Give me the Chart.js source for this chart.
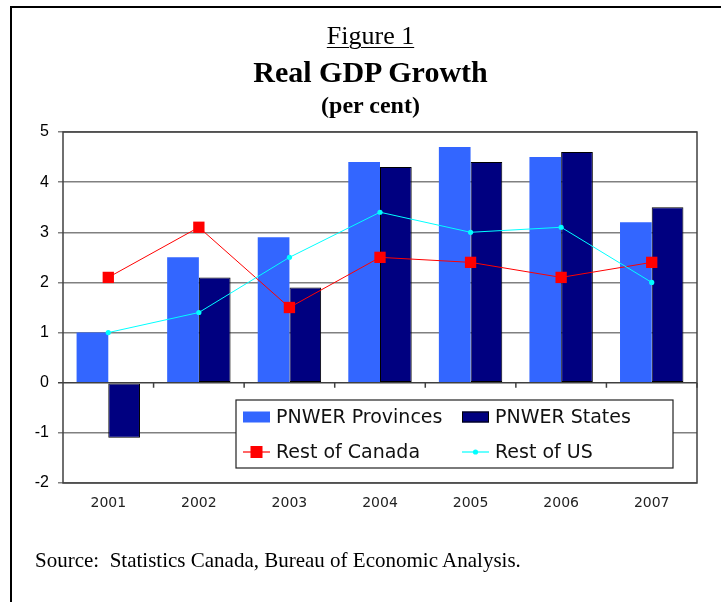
<!DOCTYPE html>
<html>
<head>
<meta charset="utf-8">
<script src="https://cdn.jsdelivr.net/npm/chart.js@4.4.1/dist/chart.umd.min.js"></script>
<style>
  html, body { margin: 0; padding: 0; background: #fff; }
  #page { position: relative; width: 721px; height: 602px; overflow: hidden; }
  #frame { position: absolute; left: 10px; top: 6px; width: 720px; height: 610px;
           border-left: 2px solid #000; border-top: 2px solid #000; }
  canvas { position: absolute; left: 0; top: 0; }
  .t { position: absolute; left: 0; width: 741px; text-align: center;
       font-family: "Liberation Serif", serif; color: #000; white-space: nowrap; }
  #fig { top: 21px; font-size: 26px; line-height: 30px; text-decoration: underline;
         text-decoration-thickness: 1px; text-underline-offset: 3px; }
  #title { top: 55px; font-size: 30px; line-height: 34px; font-weight: bold; }
  #sub { top: 91px; font-size: 24px; line-height: 28px; font-weight: bold; }
  #source { position: absolute; left: 35px; top: 547px; font-size: 21px; line-height: 26px;
            font-family: "Liberation Serif", serif; color: #000; white-space: nowrap; }
</style>
</head>
<body>
<div id="page">
  <canvas id="chart" width="721" height="602"></canvas>
  <div id="frame"></div>
  <div class="t" id="fig">Figure 1</div>
  <div class="t" id="title">Real GDP Growth</div>
  <div class="t" id="sub">(per cent)</div>
  <div id="source">Source:&nbsp; Statistics Canada, Bureau of Economic Analysis.</div>
</div>
<script>
const years = ["2001", "2002", "2003", "2004", "2005", "2006", "2007"];
const pnwerProvinces = [1.0, 2.5, 2.9, 4.4, 4.7, 4.5, 3.2];
const pnwerStates = [-1.1, 2.1, 1.9, 4.3, 4.4, 4.6, 3.5];
const restOfCanada = [2.1, 3.1, 1.5, 2.5, 2.4, 2.1, 2.4];
const restOfUS = [1.0, 1.4, 2.5, 3.4, 3.0, 3.1, 2.0];
const yTicks = [-2, -1, 0, 1, 2, 3, 4, 5];

const AXIS = "#404040";
const GRID = "#808080";

// box round the plot + small ticks on the zero line between years
const frameAndTicks = {
  id: "frameAndTicks",
  afterDatasetsDraw(chart) {
    const { ctx, chartArea: a, scales: { x, y } } = chart;
    const y0 = y.getPixelForValue(0);
    ctx.save();
    ctx.strokeStyle = AXIS;
    ctx.lineWidth = 1.5;
    ctx.beginPath();
    for (let i = 1; i < years.length; i++) {
      const bx = (x.getPixelForTick(i - 1) + x.getPixelForTick(i)) / 2;
      ctx.moveTo(bx, y0);
      ctx.lineTo(bx, y0 + 5);
    }
    ctx.moveTo(a.right, y0);
    ctx.lineTo(a.right, y0 + 5);
    ctx.stroke();
    ctx.strokeRect(a.left, a.top, a.right - a.left, a.bottom - a.top);
    ctx.restore();
  }
};

// legend box sitting inside the plot, like the Excel original
const boxLegend = {
  id: "boxLegend",
  afterDraw(chart) {
    const { ctx } = chart;
    const ds = chart.data.datasets;
    const left = 236, top = 400, w = 437, h = 68;
    ctx.save();
    ctx.fillStyle = "#fff";
    ctx.fillRect(left, top, w, h);
    ctx.strokeStyle = "#222";
    ctx.lineWidth = 1.2;
    ctx.strokeRect(left, top, w, h);

    const cols = [left + 7, left + 226];
    const rows = [top + 17, top + 52];
    ctx.font = "19px 'DejaVu Sans'";
    ctx.textBaseline = "middle";
    ds.forEach((d, i) => {
      const sx = cols[i % 2], cy = rows[Math.floor(i / 2)];
      if (d.type === "line") {
        ctx.strokeStyle = d.borderColor;
        ctx.lineWidth = 1.2;
        ctx.beginPath();
        ctx.moveTo(sx, cy);
        ctx.lineTo(sx + 27, cy);
        ctx.stroke();
        ctx.fillStyle = d.pointBackgroundColor;
        if (d.pointStyle === "rect") {
          ctx.fillRect(sx + 13.5 - 6, cy - 6, 12, 12);
        } else {
          ctx.beginPath();
          ctx.arc(sx + 13.5, cy, 2.6, 0, Math.PI * 2);
          ctx.fill();
        }
      } else {
        ctx.fillStyle = d.backgroundColor;
        ctx.fillRect(sx, cy - 5.5, 27, 11);
        if (d.borderWidth) {
          ctx.strokeStyle = d.borderColor;
          ctx.lineWidth = 1;
          ctx.strokeRect(sx + 0.5, cy - 5, 26, 10);
        }
      }
      ctx.fillStyle = "#111";
      ctx.fillText(d.label, sx + 33, cy + 1);
    });
    ctx.restore();
  }
};

new Chart(document.getElementById("chart"), {
  type: "bar",
  data: {
    labels: years,
    datasets: [
      { label: "PNWER Provinces", data: pnwerProvinces, backgroundColor: "#3366FF",
        borderWidth: 0, order: 2, categoryPercentage: 0.7, barPercentage: 1.0 },
      { label: "PNWER States", data: pnwerStates, backgroundColor: "#000080",
        borderColor: "#000", borderWidth: 1, borderSkipped: false, order: 2,
        categoryPercentage: 0.7, barPercentage: 1.0 },
      { type: "line", label: "Rest of Canada", data: restOfCanada, borderColor: "#FF0000",
        borderWidth: 1, pointStyle: "rect", pointRadius: 8, pointBorderWidth: 0,
        pointBackgroundColor: "#FF0000", tension: 0, order: 1 },
      { type: "line", label: "Rest of US", data: restOfUS, borderColor: "#00FFFF",
        borderWidth: 1, pointStyle: "circle", pointRadius: 2.6, pointBorderWidth: 0,
        pointBackgroundColor: "#00FFFF", tension: 0, order: 0 }
    ]
  },
  options: {
    responsive: false,
    animation: false,
    layout: { padding: { top: 132, right: 24, bottom: 79, left: 0 } },
    plugins: { legend: { display: false }, title: { display: false }, tooltip: { enabled: false } },
    scales: {
      x: {
        grid: { display: false, drawTicks: false },
        border: { display: false },
        ticks: { color: "#222", font: { family: "DejaVu Sans", size: 14 }, padding: 12 },
        afterFit(s) { s.height = 40; }
      },
      y: {
        min: -2,
        max: 5,
        afterBuildTicks(s) { s.ticks = yTicks.map(v => ({ value: v })); },
        grid: {
          color: c => (c.tick && c.tick.value === 0 ? AXIS : GRID),
          lineWidth: 1.5,
          tickLength: 5
        },
        border: { display: false },
        ticks: { color: "#000", font: { family: "Liberation Sans", size: 16 }, padding: 9 },
        afterFit(s) { s.width = 63; }
      }
    }
  },
  plugins: [frameAndTicks, boxLegend]
});
</script>
</body>
</html>
